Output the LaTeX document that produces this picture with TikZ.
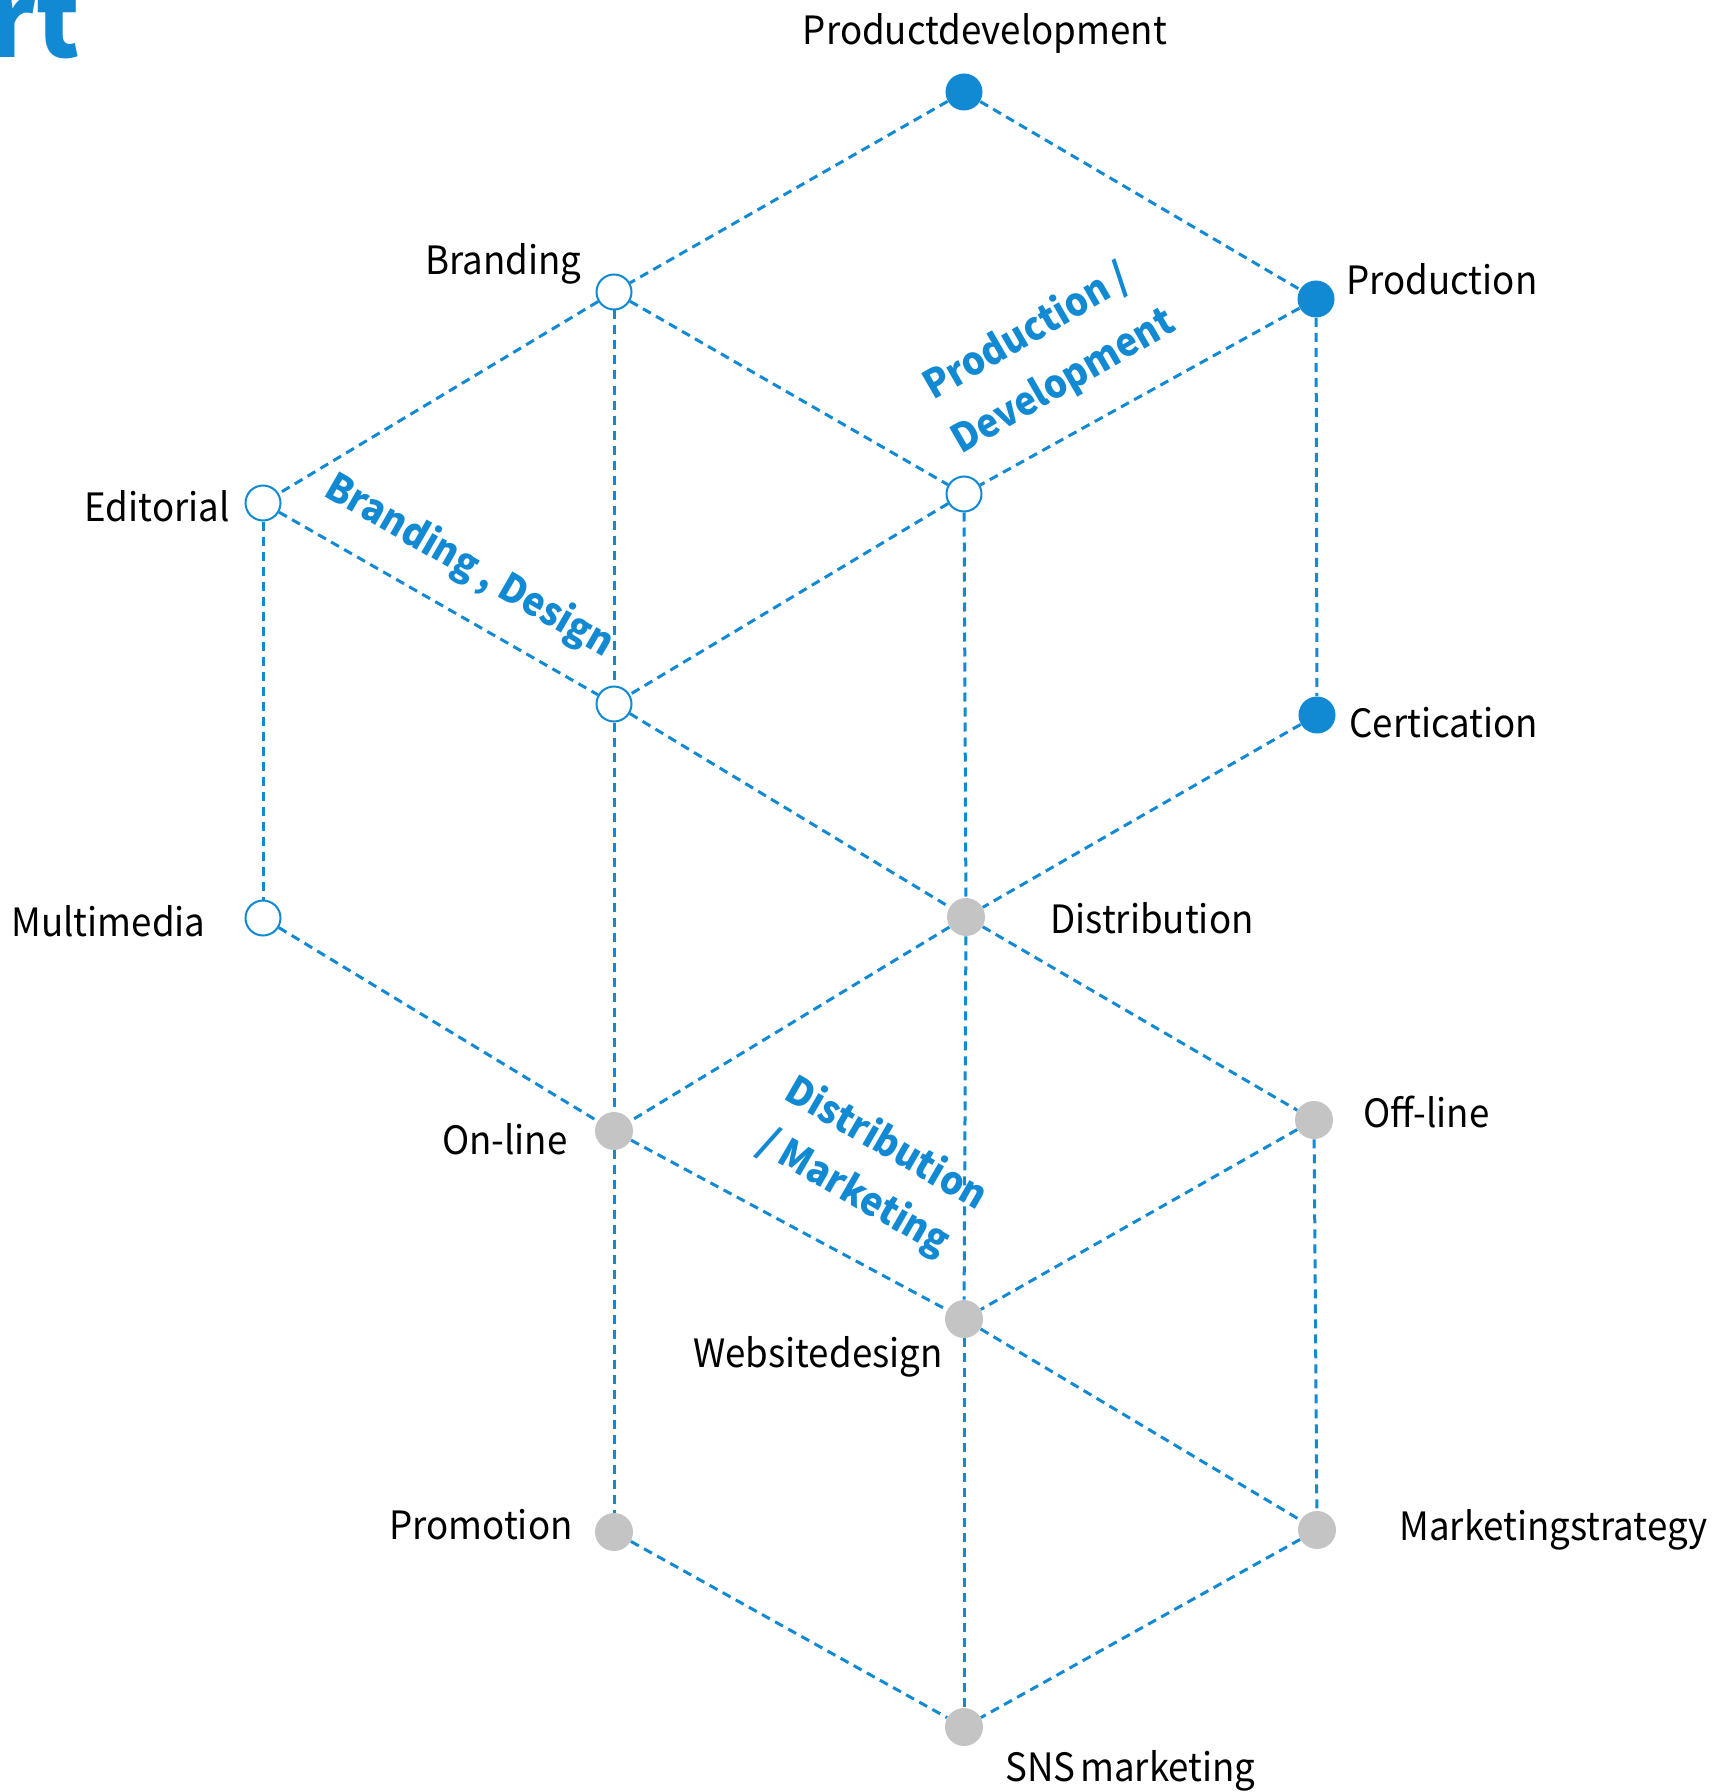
\documentclass[tikz,border=0pt]{standalone}
\usepackage{fontspec}
\setmainfont[FakeStretch=0.94]{Noto Sans CJK JP}
\definecolor{hexblue}{RGB}{18,137,211}
\definecolor{dotgray}{RGB}{196,196,196}
\tikzset{
  lbl/.style={inner sep=0pt, font=\fontsize{19.5pt}{23pt}\selectfont, text=black},
  grp/.style={inner sep=0pt, font=\fontsize{19.5pt}{23pt}\selectfont\bfseries, text=hexblue},
  fullpt/.style={circle, fill=hexblue, minimum size=18.5pt, inner sep=0pt},
  openpt/.style={circle, draw=hexblue, line width=1pt, fill=white, minimum size=17.5pt, inner sep=0pt},
  graypt/.style={circle, fill=dotgray, minimum size=19pt, inner sep=0pt},
  link/.style={draw=hexblue, line width=1.5pt, dash pattern=on 4.5pt off 3pt},
}
\begin{document}
\begin{tikzpicture}[x=0.5pt,y=-0.5pt]
\useasboundingbox (0,0) rectangle (1721,1792);
\begin{scope}
\clip (0,0) rectangle (1721,1792);
\node[anchor=base east, inner sep=0pt, text=hexblue, font=\fontsize{52pt}{60pt}\selectfont\bfseries] (title) at (80,58) {rt};
\end{scope}
% points
\node[fullpt] (PD) at (964,92) {};
\node[openpt] (Br) at (614,292) {};
\node[fullpt] (Pr) at (1316,299) {};
\node[openpt] (Ed) at (263,503) {};
\node[openpt] (Mid) at (964,494) {};
\node[openpt] (Low) at (614,704) {};
\node[fullpt] (Ce) at (1317,715) {};
\node[openpt] (Mu) at (263,918) {};
\node[graypt] (Di) at (966,917) {};
\node[graypt] (Off) at (1314,1120) {};
\node[graypt] (On) at (614,1131) {};
\node[graypt] (We) at (964,1319) {};
\node[graypt] (Pm) at (614,1532) {};
\node[graypt] (Ms) at (1317,1530) {};
\node[graypt] (SNS) at (964,1727) {};
% connectors
\path[link] (PD) -- (Br);
\path[link] (PD) -- (Pr);
\path[link] (Br) -- (Ed);
\path[link] (Br) -- (Mid);
\path[link] (Br) -- (Low);
\path[link] (Pr) -- (Mid);
\path[link] (Pr) -- (Ce);
\path[link] (Ed) -- (Mu);
\path[link] (Ed) -- (Low);
\path[link] (Mid) -- (Low);
\path[link] (Mid) -- (Di);
\path[link] (Low) -- (Di);
\path[link] (Low) -- (On);
\path[link] (Ce) -- (Di);
\path[link] (Mu) -- (On);
\path[link] (Di) -- (On);
\path[link] (Di) -- (Off);
\path[link] (Di) -- (We);
\path[link] (Off) -- (We);
\path[link] (Off) -- (Ms);
\path[link] (On) -- (We);
\path[link] (On) -- (Pm);
\path[link] (We) -- (Ms);
\path[link] (We) -- (SNS);
\path[link] (Pm) -- (SNS);
\path[link] (Ms) -- (SNS);
% labels
\node[lbl, anchor=base] (tPD) at (985,45) {Productdevelopment};
\node[lbl, anchor=base east] (tBr) at (582,275) {Branding};
\node[lbl, anchor=base west] (tPr) at (1346,295) {Production};
\node[lbl, anchor=base east] (tEd) at (230,521) {Editorial};
\node[lbl, anchor=base east] (tMu) at (206,936) {Multimedia};
\node[lbl, anchor=base west] (tCe) at (1349,737) {Certication};
\node[lbl, anchor=base west] (tDi) at (1050,933) {Distribution};
\node[lbl, anchor=base west] (tOff) at (1363,1127) {Off-line};
\node[lbl, anchor=base east] (tOn) at (568,1154) {On-line};
\node[lbl, anchor=base east] (tWe) at (943,1367) {Websitedesign};
\node[lbl, anchor=base east] (tPm) at (573,1539) {Promotion};
\node[lbl, anchor=base west] (tMs) at (1399,1540) {Marketingstrategy};
\node[lbl, anchor=base west] (tSNS) at (1005,1781) {SNS\hspace{0.12em}marketing};
% group labels
\node[grp, anchor=base west, rotate=30] (gPD1) at (933,401) {Production /};
\node[grp, anchor=base west, rotate=30] (gPD2) at (961,455) {Development};
\node[grp, anchor=base west, rotate=-30] (gBD) at (322,495) {Branding , Design};
\node[grp, anchor=base west, rotate=-30] (gDM1) at (782,1098) {Distribution};
\node[grp, anchor=base west, rotate=-30] (gDM2) at (756,1150) {/ Marketing};
\end{tikzpicture}
\end{document}
